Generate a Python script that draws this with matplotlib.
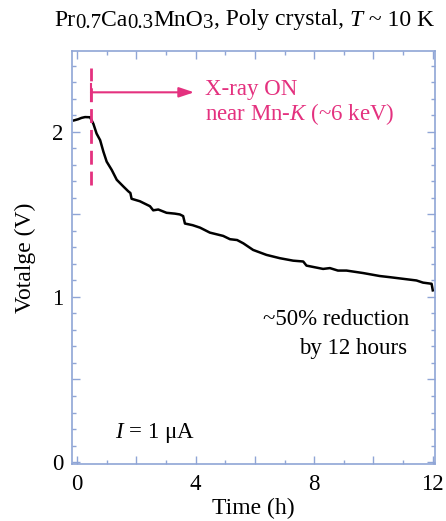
import numpy as np
import matplotlib.pyplot as plt
from matplotlib.ticker import MultipleLocator

plt.rcParams['font.family'] = ['Liberation Serif', 'DejaVu Serif']
plt.rcParams['mathtext.fontset'] = 'custom'
plt.rcParams['mathtext.rm'] = 'Liberation Serif'
plt.rcParams['mathtext.it'] = 'Liberation Serif:italic'

# curve
time_h = [-0.1, 0.04, 0.15, 0.27, 0.44, 0.55, 0.66, 0.78, 0.89, 1.0, 1.17, 1.34,
          1.56, 1.73, 1.80, 1.84, 2.12, 2.46, 2.57, 2.74, 3.02, 3.3, 3.47, 3.58,
          3.64, 3.9, 4.15, 4.48, 4.93, 5.16, 5.4, 5.61, 5.94, 6.39, 6.84, 7.29,
          7.63, 7.74, 8.3, 8.53, 8.8, 9.09, 9.65, 10.21, 10.55, 11.0, 11.45,
          11.67, 11.96, 12.0]
voltage = [2.07, 2.077, 2.085, 2.09, 2.089, 2.05, 1.99, 1.95, 1.88, 1.82, 1.77, 1.71,
           1.67, 1.64, 1.63, 1.595, 1.58, 1.55, 1.525, 1.53, 1.51, 1.505, 1.50, 1.49,
           1.445, 1.435, 1.42, 1.39, 1.37, 1.35, 1.345, 1.325, 1.285, 1.255, 1.235, 1.22,
           1.215, 1.19, 1.17, 1.175, 1.16, 1.16, 1.145, 1.127, 1.12, 1.11, 1.10,
           1.087, 1.08, 1.04]

t_on = 0.47
dash_v = [1.68, 2.39]
arrow_v = 2.24
arrow_end = 3.95

pink = '#E4317F'
axcol = '#8FA5D6'

fig = plt.figure(figsize=(4.46, 5.21), dpi=100)
ax = fig.add_axes([0.1614, 0.1094, 0.8136, 0.7926])

ax.plot(time_h, voltage, color='black', lw=1.8)

ax.plot([t_on, t_on], dash_v, color=pink, lw=2, dashes=(5, 2.5))
ax.plot([t_on, t_on], [arrow_v - 0.05, arrow_v + 0.05], color=pink, lw=1.5)
ax.annotate('', xy=(arrow_end, arrow_v), xytext=(t_on, arrow_v),
            arrowprops=dict(arrowstyle='-|>,head_length=0.9,head_width=0.3',
                            color=pink, lw=1.5, shrinkA=0, shrinkB=0))
ax.text(4.3, 2.26, 'X-ray ON', color=pink, fontsize=16.5, va='center')
ax.text(4.3, 2.11, r'near Mn-$\mathit{K}$ (~6 keV)', color=pink, fontsize=16.5,
        va='center')

ax.text(11.2, 0.865, '~50% reduction', fontsize=16.5, ha='right', va='center')
ax.text(11.15, 0.69, 'by 12 hours', fontsize=16.5, ha='right', va='center')
ax.text(1.27, 0.175, r'$\mathit{I}$ = 1 μA', fontsize=16.5, va='center')

ax.set_xlim(-0.17, 12.07)
ax.set_ylim(-0.012, 2.49)
ax.xaxis.set_minor_locator(MultipleLocator(1))
ax.yaxis.set_minor_locator(MultipleLocator(0.1))
ax.set_xticks([0, 2, 4, 6, 8, 10, 12])
ax.set_xticklabels(['0', '', '4', '', '8', '', '12'])
ax.set_yticks([0, 0.5, 1, 1.5, 2])
ax.set_yticklabels(['0', '', '1', '', '2'])
ax.tick_params(which='both', direction='in', top=True, right=True,
               color=axcol, labelsize=16.5)
ax.tick_params(axis='x', pad=7)
ax.tick_params(axis='y', pad=6)
ax.tick_params(which='major', length=6, width=1)
ax.tick_params(which='minor', length=3, width=1)
for s in ax.spines.values():
    s.set_color(axcol)
    s.set_linewidth(1.2)

ax.set_xlabel('Time (h)', fontsize=17, labelpad=2)
ax.set_ylabel('Votalge (V)', fontsize=17, labelpad=12)

# title built from pieces so the subscripts stay near full size
title_parts = [('Pr', 17, 0, 'normal'), ('0.7', 15, -3, 'normal'),
               ('Ca', 17, 0, 'normal'), ('0.3', 15, -3, 'normal'),
               ('MnO', 17, 0, 'normal'), ('3', 15, -3, 'normal'),
               (', Poly crystal, ', 17, 0, 'normal'), ('T', 17, 0, 'italic'),
               (' ~ 10 K', 17, 0, 'normal')]
renderer = fig.canvas.get_renderer()
x_px = 54
y_px = 521 - 20
for txt, size, dy, style in title_parts:
    t = fig.text(x_px / 446, (y_px + dy) / 521, txt, fontsize=size,
                 style=style, va='center', ha='left')
    bb = t.get_window_extent(renderer)
    x_px += bb.width

fig.savefig('out.png', dpi=100)
